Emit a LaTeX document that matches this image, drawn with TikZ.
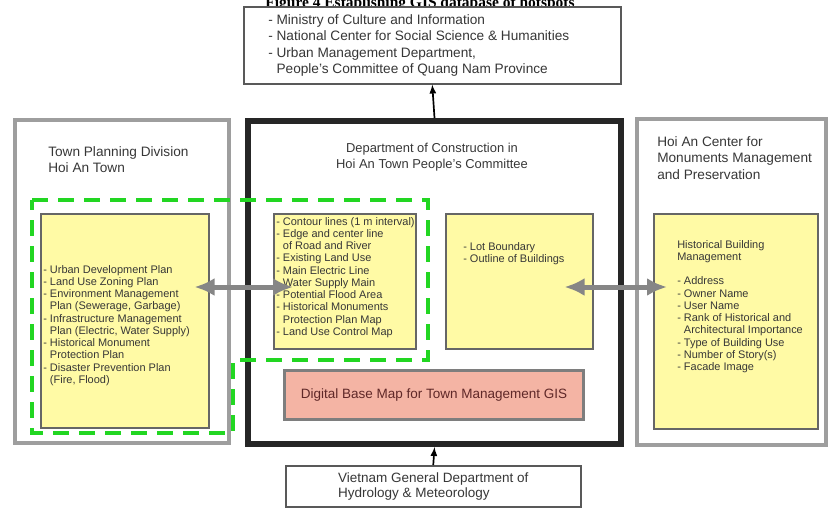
\documentclass[tikz,border=0pt]{standalone}
\usepackage{fontspec}
\setmainfont{Liberation Sans}
\newfontfamily\judulfont{Liberation Serif}
\usepackage{tikz}
\usetikzlibrary{arrows}
\usetikzlibrary{arrows.meta}
\usetikzlibrary{positioning}

\definecolor{kuning}{RGB}{255,250,165}
\definecolor{salem}{RGB}{244,180,164}
\definecolor{hijau}{RGB}{34,214,34}
\definecolor{abu}{RGB}{158,158,158}
\definecolor{teks}{RGB}{55,55,55}
\definecolor{tekspeta}{RGB}{95,40,40}
\newcommand{\pj}{0.025cm}

\begin{document}
\begin{tikzpicture}[x=\pj, y=-\pj,
	kotakluar/.style={draw=abu, line width=4*\pj, anchor=north west, inner sep=0pt},
	kotaktipis/.style={draw=black!65, line width=1.5*\pj, fill=white, anchor=north west, inner sep=0pt},
	kotakkuning/.style={draw=black!60, line width=1.5*\pj, fill=kuning, anchor=north west, inner sep=0pt},
	isi/.style={font=\fontsize{7.8}{8.7}\selectfont, align=left, text=teks, inner sep=0pt, anchor=north west},
	judul/.style={font=\fontsize{9.7}{11.7}\selectfont, align=left, text=teks, inner sep=0pt, anchor=north west},
	panah/.style={-latex, line width=1.2pt, black},
	duaarah/.style={{Latex[length=0.5cm,width=0.45cm]}-{Latex[length=0.5cm,width=0.45cm]}, line width=5*\pj, abu!85!black},
	garishijau/.style={hijau, line width=4*\pj, dash pattern=on 0.4cm off 0.25cm}]
	
	% Batas gambar
	\useasboundingbox (0,0) rectangle (828,508);
	\clip (0,0) rectangle (828,508);
	
	% Judul gambar (terpotong di tepi atas)
	\node[font=\judulfont\bfseries\fontsize{11}{13}\selectfont, anchor=base] (judulgambar) at (420,7) {Figure 4 Establishing GIS database of hotspots};
	
	%% KOTAK ATAS DAN BAWAH %%
	% Buat kotak kementerian di atas
	\node[kotaktipis, minimum width=377*\pj, minimum height=77*\pj] (atas) at (243,6) {};
	\node[judul] (atasisi) at (268,14) {- Ministry of Culture and Information\\- National Center for Social Science \& Humanities\\- Urban Management Department,\\\phantom{- }People's Committee of Quang Nam Province};
	
	% Buat kotak hidrologi di bawah
	\node[kotaktipis, minimum width=295*\pj, minimum height=41*\pj, font=\fontsize{9.6}{11}\selectfont, text=teks, align=left] (bawah) at (285,465) {Vietnam General Department of\\Hydrology \& Meteorology};
	
	%% KOTAK KIRI (TOWN PLANNING DIVISION) %%
	\node[kotakluar, minimum width=214*\pj, minimum height=323*\pj] (tpd) at (13,118) {};
	\node[judul] (tpdjudul) at (48,146) {Town Planning Division\\Hoi An Town};
	\node[kotakkuning, minimum width=168*\pj, minimum height=214*\pj] (rencana) at (40,213) {};
	\node[isi] (rencanaisi) at (43,265) {- Urban Development Plan\\- Land Use Zoning Plan\\- Environment Management\\\phantom{- }Plan (Sewerage, Garbage)\\- Infrastructure Management\\\phantom{- }Plan (Electric, Water Supply)\\- Historical Monument\\\phantom{- }Protection Plan\\- Disaster Prevention Plan\\\phantom{- }(Fire, Flood)};
	
	%% KOTAK TENGAH (DEPARTMENT OF CONSTRUCTION) %%
	\node[draw=black!85, line width=6*\pj, anchor=north west, inner sep=0pt, minimum width=373*\pj, minimum height=323*\pj] (dc) at (245,118) {};
	\node[judul, font=\fontsize{9.2}{11.4}\selectfont, align=center, anchor=north] (dcjudul) at (432,143) {Department of Construction in\\Hoi An Town People's Committee};
	
	% Kotak kontur
	\node[kotakkuning, minimum width=142*\pj, minimum height=135*\pj] (kontur) at (273,213) {};
	\node[isi] (konturisi) at (276,217) {- Contour lines (1 m interval)\\- Edge and center line\\\phantom{- }of Road and River\\- Existing Land Use\\- Main Electric Line\\- Water Supply Main\\- Potential Flood Area\\- Historical Monuments\\\phantom{- }Protection Plan Map\\- Land Use Control Map};
	
	% Kotak kavling
	\node[kotakkuning, minimum width=147*\pj, minimum height=135*\pj] (kavling) at (445,213) {};
	\node[isi] (kavlingisi) at (463,242) {- Lot Boundary\\- Outline of Buildings};
	
	% Kotak peta dasar digital
	\node[draw=abu!80!black, line width=3*\pj, fill=salem, anchor=north west, inner sep=0pt, minimum width=299*\pj, minimum height=49*\pj, font=\fontsize{9.6}{11}\selectfont, text=tekspeta] (peta) at (283,369) {Digital Base Map for Town Management GIS};
	
	%% KOTAK KANAN (HOI AN CENTER) %%
	\node[kotakluar, minimum width=189*\pj, minimum height=326*\pj] (hamm) at (635,117) {};
	\node[judul] (hammjudul) at (657,136) {Hoi An Center for\\Monuments Management\\and Preservation};
	\node[kotakkuning, minimum width=164*\pj, minimum height=215*\pj] (bangunan) at (653,213) {};
	\node[isi] (bangunanisi) at (677,240) {Historical Building\\Management\\[8.7pt]- Address\\- Owner Name\\- User Name\\- Rank of Historical and\\\phantom{- }Architectural Importance\\- Type of Building Use\\- Number of Story(s)\\- Facade Image};
	
	%% GARIS PUTUS-PUTUS HIJAU %%
	\draw[garishijau] (32,200) -- (428,200) -- (428,360) -- (233,360) -- (233,433) -- (32,433) -- cycle;
	
	%% PANAH %%
	\coordinate (barispanah) at (0,287);
	\draw[panah] (dc.north) -- (atas.south);
	\draw[panah] (bawah.north) -- (dc.south);
	\draw[duaarah, shorten <=-0.375cm, shorten >=-0.5cm] (rencana.east |- barispanah) -- (kontur.west |- barispanah);
	\draw[duaarah, shorten <=-0.725cm, shorten >=-0.35cm] (kavling.east |- barispanah) -- (bangunan.west |- barispanah);
\end{tikzpicture}
\end{document}
